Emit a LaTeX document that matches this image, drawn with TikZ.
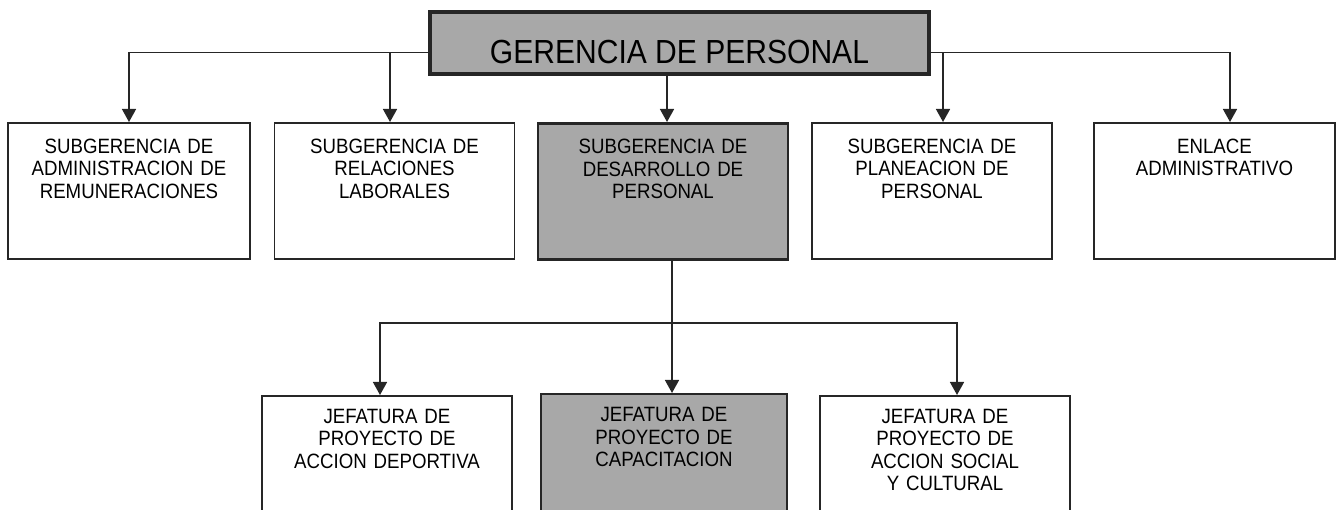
\documentclass[tikz,border=0pt]{standalone}
\usepackage{fontspec}
\setmainfont{Liberation Sans}[FakeStretch=0.9]
\usetikzlibrary{arrows.meta}
\definecolor{boxgray}{RGB}{168,168,168}
\tikzstyle{unit} = [draw=black!85, line width=1.1pt, anchor=north, text width=4.6cm, align=center, inner xsep=0.1cm, inner ysep=0.2cm, text height=0.41cm, text depth=1.91cm, font=\fontsize{11.8}{12.8}\selectfont]
\tikzstyle{lowunit} = [text height=0.35cm, text depth=1.97cm]
\tikzstyle{grayunit} = [fill=boxgray, line width=1.6pt]
\tikzstyle{link} = [draw=black!85, line width=0.85pt, -{Triangle[length=2.6mm,width=2.8mm]}]

\begin{document}
\begin{tikzpicture}
  \clip (0,0) rectangle (26.84,-10.2);
  \node (a) at (13.59,-0.2) [anchor=north, draw=black!85, fill=boxgray, line width=2pt, minimum width=9.98cm, inner sep=0, text height=1.04cm, text depth=0.2cm, font=\fontsize{19}{22}\selectfont] {GERENCIA DE PERSONAL};

  \node (b) at (2.58,-2.44) [unit, minimum width=4.84cm] {SUBGERENCIA DE\\ADMINISTRACION DE\\REMUNERACIONES};
  \node (c) at (7.89,-2.44) [unit, minimum width=4.78cm] {SUBGERENCIA DE\\RELACIONES\\LABORALES};
  \node (d) at (13.26,-2.44) [unit, grayunit, minimum width=5cm] {SUBGERENCIA DE\\DESARROLLO DE\\PERSONAL};
  \node (e) at (18.64,-2.44) [unit, minimum width=4.8cm] {SUBGERENCIA DE\\PLANEACION DE\\PERSONAL};
  \node (f) at (24.29,-2.44) [unit, minimum width=4.82cm] {ENLACE\\ADMINISTRATIVO};

  \node (g) at (7.74,-7.9) [unit, lowunit, minimum width=5cm] {JEFATURA DE\\PROYECTO DE\\ACCION DEPORTIVA};
  \node (h) at (13.28,-7.86) [unit, lowunit, grayunit, line width=1.2pt, minimum width=4.92cm] {JEFATURA DE\\PROYECTO DE\\CAPACITACION};
  \node (i) at (18.9,-7.9) [unit, lowunit, minimum width=5cm] {JEFATURA DE\\PROYECTO DE\\ACCION SOCIAL\\Y CULTURAL};

  \coordinate (l) at ([yshift=-0.19cm]a.west);
  \coordinate (r) at ([yshift=-0.19cm]a.east);
  \coordinate (m) at (13.44,-6.46);

  \draw [link] (l) -| (b.north);
  \draw [link] ([xshift=-0.09cm]c.north |- l) -- ([xshift=-0.09cm]c.north);
  \draw [link] ([xshift=0.08cm]d.north |- a.south) -- ([xshift=0.08cm]d.north);
  \draw [link] ([xshift=0.22cm]e.north |- r) -- ([xshift=0.22cm]e.north);
  \draw [link] (r) -| ([xshift=0.31cm]f.north);

  \draw [link] ([xshift=0.18cm]d.south) -- ([xshift=0.18cm]d.south |- h.north);
  \draw [link] (m) -| ([xshift=-0.14cm]g.north);
  \draw [link] (m) -| ([xshift=0.24cm]i.north);
\end{tikzpicture}
\end{document}
